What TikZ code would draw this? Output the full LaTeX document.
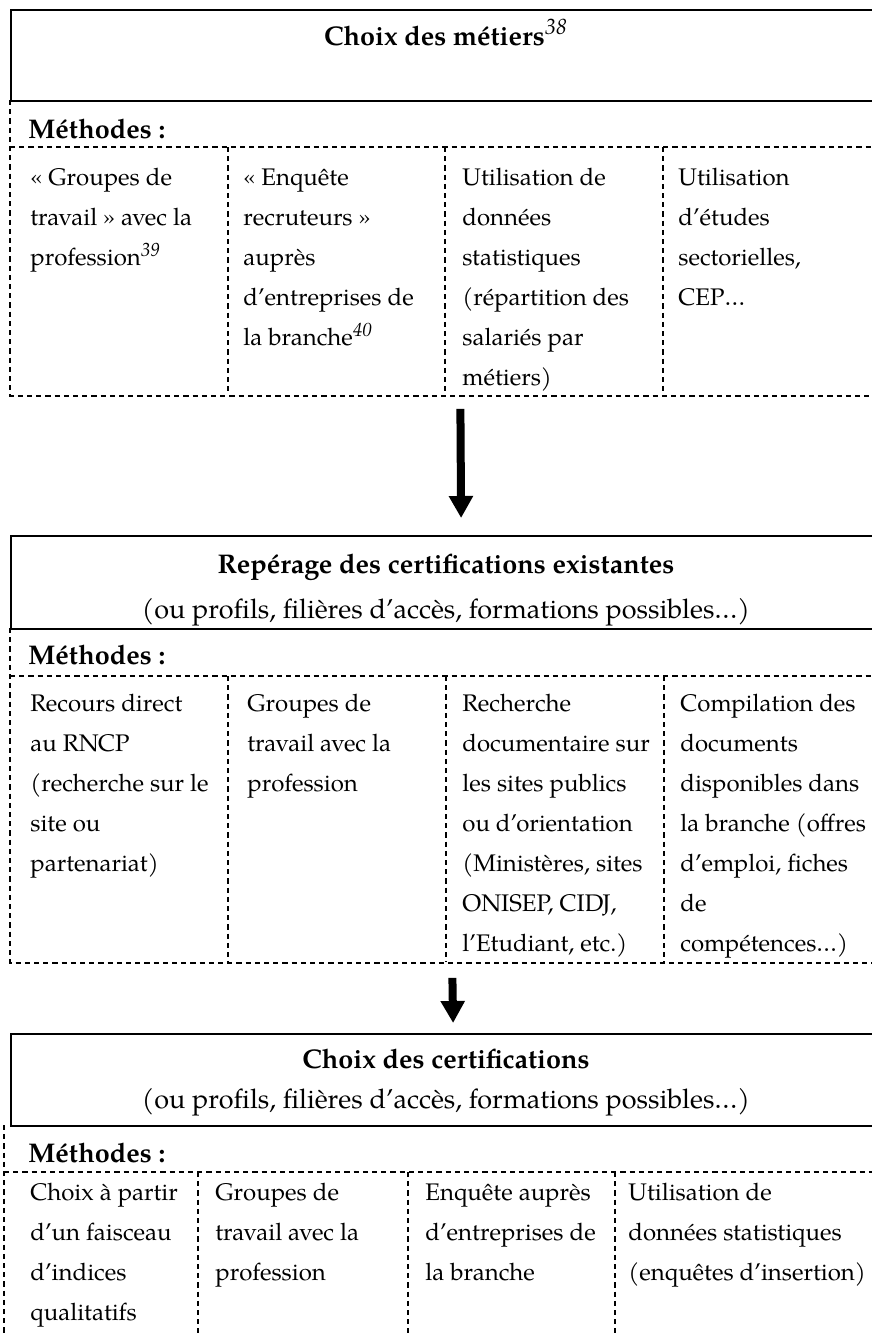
\documentclass[tikz,border=0pt]{standalone}
\usepackage{fontspec}
\setmainfont{texgyrepagella}[Extension=.otf, UprightFont=*-regular, BoldFont=*-bold, ItalicFont=*-italic, BoldItalicFont=*-bolditalic]
\usetikzlibrary{arrows.meta,positioning}

\begin{document}
\begin{tikzpicture}[
        x=0.5pt, y=-0.5pt,
        font=\fontsize{12}{20}\selectfont,
        frame/.style={rectangle, draw, line width=1.1pt, anchor=north west, inner sep=0pt, minimum width=436pt},
        area/.style={rectangle, anchor=north west, inner sep=0pt, minimum width=436pt},
        titletext/.style={anchor=base, inner sep=0pt, font=\fontsize{13.5}{20}\selectfont\bfseries},
        subtext/.style={anchor=base, inner sep=0pt, font=\fontsize{13.5}{20}\selectfont},
        methodlabel/.style={anchor=base west, inner sep=0pt, font=\fontsize{13.5}{20}\selectfont\bfseries},
        cell/.style={anchor=north west, inner sep=0pt, align=left},
        dashline/.style={line width=1pt, dash pattern=on 2.6pt off 2pt},
        bigarrow/.style={line width=4pt, -{Triangle[width=11.5pt, length=11pt]}}
    ]
        \useasboundingbox (0,0) rectangle (872,1333);
        \clip (0,0) rectangle (872,1333);

        \node[frame, minimum height=45.5pt] (t1) at (10,9) {};
        \node[area, minimum height=147.5pt] (m1) at (10,100) {};
        \node[titletext] (t1a) at (446,45) {Choix des métiers\textsuperscript{\fontsize{11}{11}\selectfont\mdseries\itshape 38}};
        \node[methodlabel] (m1a) at (28,138) {Méthodes :};
        \node[cell] (c11) at (30,157) {\strut« Groupes de\\travail » avec la\\profession\textsuperscript{\fontsize{9.5}{9.5}\selectfont\itshape 39}};
        \node[cell] (c12) at (243,157) {\strut« Enquête\\recruteurs »\\auprès\\d’entreprises de\\la branche\textsuperscript{\fontsize{9.5}{9.5}\selectfont\itshape 40}};
        \node[cell] (c13) at (462,157) {\strut Utilisation de\\données\\statistiques\\(répartition des\\salariés par\\métiers)};
        \node[cell] (c14) at (678,157) {\strut Utilisation\\d’études\\sectorielles,\\CEP…};

        \node[frame, minimum height=46.5pt] (t2) at (10,535) {};
        \node[area, minimum height=167pt] (m2) at (10,628) {};
        \node[titletext] (t2a) at (446,573) {Repérage des certifications existantes};
        \node[subtext] (t2b) at (446,618) {(ou profils, filières d’accès, formations possibles…)};
        \node[methodlabel] (m2a) at (28,664) {Méthodes :};
        \node[cell] (c21) at (30,683) {\strut Recours direct\\au RNCP\\(recherche sur le\\site ou\\partenariat)};
        \node[cell] (c22) at (247,683) {\strut Groupes de\\travail avec la\\profession};
        \node[cell] (c23) at (462,683) {\strut Recherche\\documentaire sur\\les sites publics\\ou d’orientation\\(Ministères, sites\\ONISEP, CIDJ,\\l’Etudiant, etc.)};
        \node[cell] (c24) at (680,683) {\strut Compilation des\\documents\\disponibles dans\\la branche (offres\\d’emploi, fiches\\de\\compétences…)};

        \node[frame, minimum height=46pt] (t3) at (10,1033) {};
        \node[area, minimum height=110pt, minimum width=439pt] (m3) at (4,1125) {};
        \node[titletext] (t3a) at (446,1068) {Choix des certifications};
        \node[subtext] (t3b) at (446,1108) {(ou profils, filières d’accès, formations possibles…)};
        \node[methodlabel] (m3a) at (28,1162) {Méthodes :};
        \node[cell] (c31) at (30,1172) {\strut Choix à partir\\d’un faisceau\\d’indices\\qualitatifs};
        \node[cell] (c32) at (215,1172) {\strut Groupes de\\travail avec la\\profession};
        \node[cell] (c33) at (425,1172) {\strut Enquête auprès\\d’entreprises de\\la branche};
        \node[cell] (c34) at (628,1172) {\strut Utilisation de\\données statistiques\\(enquêtes d’insertion)};

        \draw[dashline] (m1.north west) -- (m1.south west) -- (m1.south east);
        \draw[dashline] (10,147) -- (882,147);
        \foreach \x in {228,445,663}
            \draw[dashline] (\x,147) -- (\x,395);

        \draw[dashline] (m2.north west) -- (m2.south west) -- (m2.south east);
        \draw[dashline] (10,676) -- (882,676);
        \foreach \x in {228,446,664}
            \draw[dashline] (\x,676) -- (\x,962);

        \draw[dashline] (m3.north west) -- (m3.south west);
        \draw[dashline] (4,1172) -- (882,1172);
        \foreach \x in {198,408,615}
            \draw[dashline] (\x,1172) -- (\x,1345);

        \draw[bigarrow] ([xshift=7pt, yshift=-6.5pt]m1.south) -- ([xshift=7pt, yshift=8.5pt]t2.north);
        \draw[bigarrow] ([xshift=3pt, yshift=-7.5pt]m2.south) -- ([xshift=3pt, yshift=5pt]t3.north);
    \end{tikzpicture}
\end{document}
